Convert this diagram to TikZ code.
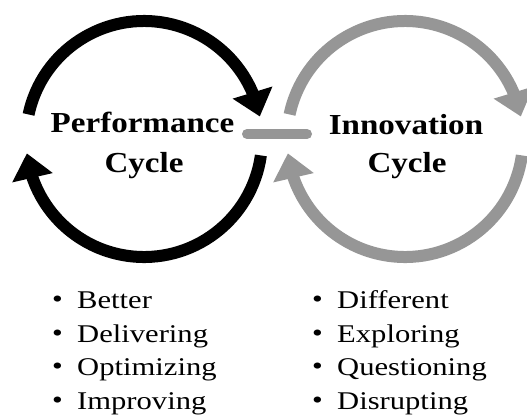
\documentclass[tikz,border=0pt]{standalone}
\usepackage{fontspec}
\setmainfont{Liberation Serif}[FakeStretch=1.2]
\newfontfamily\titlefont{Liberation Serif}[FakeStretch=1.14]
\usetikzlibrary{arrows.meta,bending,calc}
\definecolor{cyclegray}{RGB}{150,150,150}
\tikzset{
  ring/.style={line width=12pt, -{Triangle[width=40pt,length=25pt,flex]}},
  title/.style={font=\titlefont\bfseries\fontsize{29}{32}\selectfont, anchor=base, inner sep=0pt},
  item/.style={font=\fontsize{25.5}{28}\selectfont, anchor=base west, inner sep=0pt},
}
\newcommand{\bul}[1]{\makebox[25pt][l]{\raisebox{1pt}{\textbullet}}#1}
\begin{document}
\begin{tikzpicture}[x=1pt,y=1pt]
\useasboundingbox (0,0) rectangle (527,415);
\clip (0,0) rectangle (527,415);
\fill[white] (0,0) rectangle (527,415);
\coordinate (cL) at (144,276);
\coordinate (cR) at (405,276);
% left (performance) cycle
\draw[ring, black] ($(cL)+(168:118)$) arc[start angle=168, end angle=11, radius=118];
\draw[ring, black] ($(cL)+(-8:118)$) arc[start angle=-8, end angle=-173, radius=118];
% right (innovation) cycle
\draw[ring, cyclegray] ($(cR)+(168:118)$) arc[start angle=168, end angle=11, radius=118];
\draw[ring, cyclegray] ($(cR)+(-8:118)$) arc[start angle=-8, end angle=-173, radius=118];
% link bar
\coordinate (b1) at (247,281);
\coordinate (b2) at (307,281);
\draw[cyclegray, line width=10pt, line cap=round] (b1) -- (b2);
% titles
\node[title] (p1) at (142.5,282) {Performance};
\node[title] (p2) at (144,242) {Cycle};
\node[title] (i1) at (406,280) {Innovation};
\node[title] (i2) at (407,242) {Cycle};
% lists
\node[item] (l1) at (52,106) {\bul{Better}};
\node[item] (l2) at (52,72.5) {\bul{Delivering}};
\node[item] (l3) at (52,39) {\bul{Optimizing}};
\node[item] (l4) at (52,5.5) {\bul{Improving}};
\node[item] (r1) at (312,106) {\bul{Different}};
\node[item] (r2) at (312,72.5) {\bul{Exploring}};
\node[item] (r3) at (312,39) {\bul{Questioning}};
\node[item] (r4) at (312,5.5) {\bul{Disrupting}};
\end{tikzpicture}
\end{document}
